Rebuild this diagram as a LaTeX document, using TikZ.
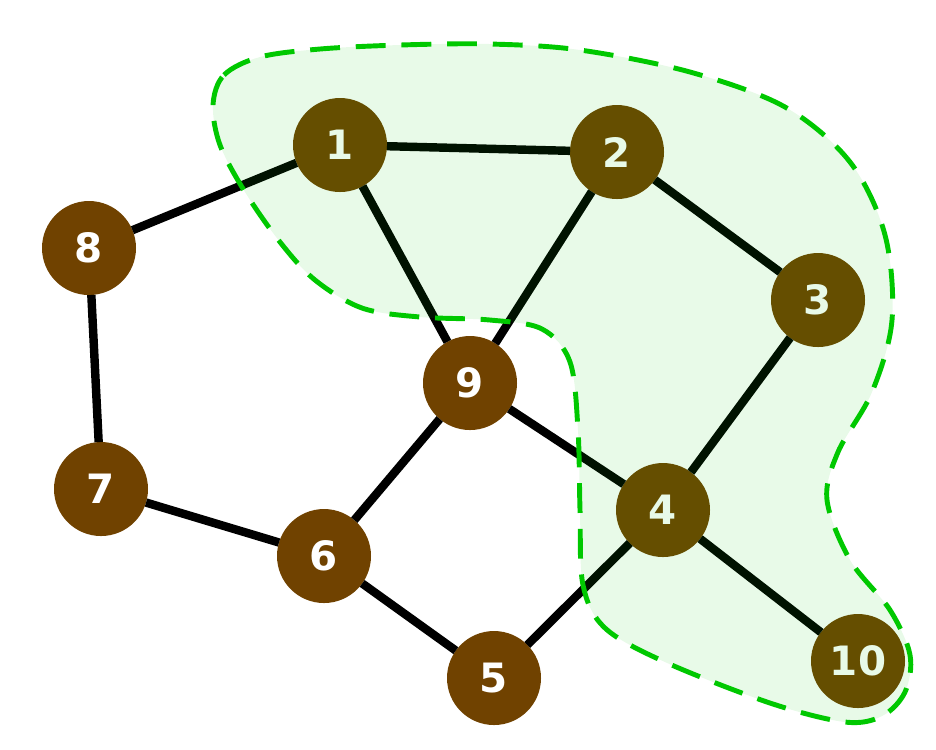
\documentclass[tikz,border=0pt]{standalone}
\usepackage{fontspec}
\usepackage{tikz}
\usetikzlibrary{calc}
\setsansfont{DejaVu Sans}
\definecolor{brown1}{RGB}{112,66,0}
\definecolor{green1}{RGB}{0,200,0}

\begin{document}
\begin{tikzpicture}[
	vertex/.style={circle, fill=brown1, minimum size=0.94cm, inner sep=0pt, outer sep=0pt,
		text=white, font=\sffamily\bfseries\fontsize{11.5}{13}\selectfont},
	link/.style={line width=2.4pt},
	region/.style={draw=green1, line width=1.4pt, dash pattern=on 8.5pt off 4.5pt,
		fill=green1, fill opacity=0.09}]
	\useasboundingbox (0,0) rectangle (9.36,-7.49);

	% vertices
	\foreach \n/\x/\y in {1/3.40/-1.45, 2/6.17/-1.52, 3/8.18/-3.00, 4/6.63/-5.10, 5/4.94/-6.78,
		6/3.24/-5.56, 7/1.01/-4.89, 8/0.89/-2.48, 9/4.70/-3.83, 10/8.58/-6.61}
	{
		\node [vertex] (n\n) at (\x,\y) {\n};
	}

	% edges
	\foreach \a/\b in {1/8, 1/2, 1/9, 2/9, 2/3, 3/4, 9/4, 9/6, 4/5, 4/10, 6/7, 6/5, 7/8}
	{
		\draw [link] (n\a) -- (n\b);
	}

	% highlighted part
	\draw [region] plot [smooth cycle, tension=0.55] coordinates {
		(2.13,-1.05) (2.24,-0.75) (2.60,-0.57) (3.20,-0.49) (4.00,-0.45) (4.90,-0.44)
		(5.80,-0.50) (6.90,-0.72) (7.85,-1.07) (8.50,-1.62) (8.85,-2.35) (8.92,-3.20)
		(8.72,-3.92) (8.38,-4.52) (8.27,-5.00) (8.50,-5.60) (8.90,-6.10) (9.10,-6.55)
		(9.05,-6.92) (8.82,-7.16) (8.45,-7.22) (7.70,-7.03) (6.65,-6.62) (6.05,-6.28)
		(5.83,-5.85) (5.80,-5.10) (5.78,-4.30) (5.70,-3.62) (5.42,-3.29) (4.90,-3.20)
		(4.20,-3.17) (3.62,-3.08) (3.15,-2.80) (2.80,-2.42) (2.45,-1.92) (2.20,-1.45)};
\end{tikzpicture}
\end{document}
